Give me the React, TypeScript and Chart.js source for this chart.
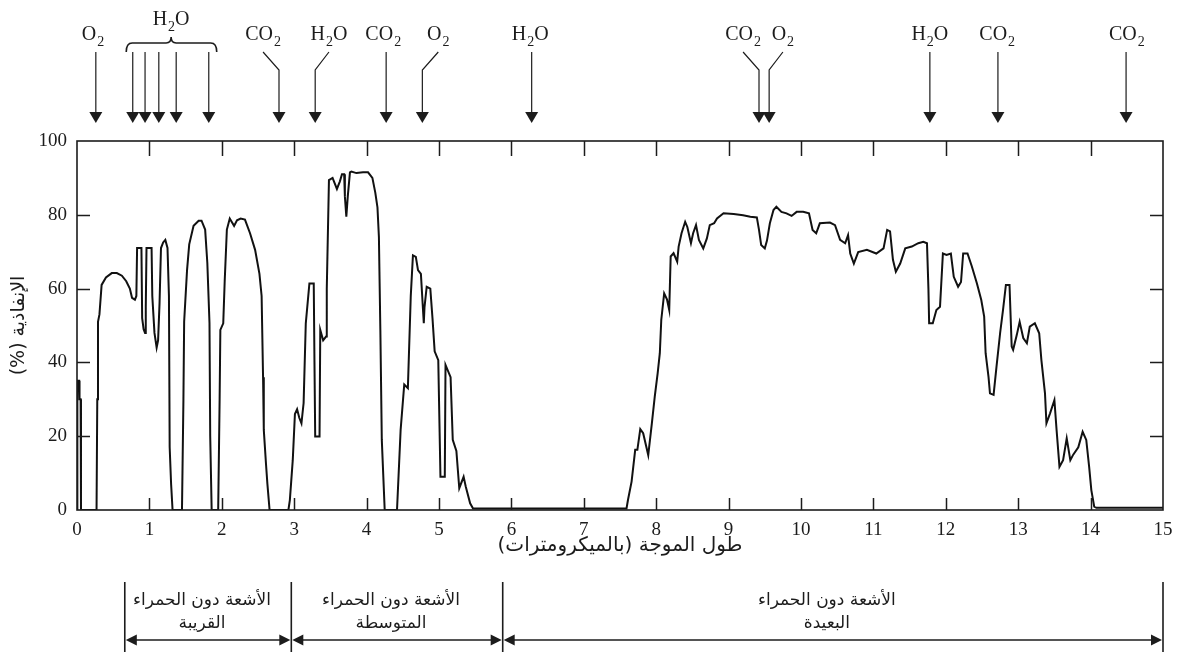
import React, { useEffect, useRef } from 'react';
import { Chart, registerables } from 'chart.js';

Chart.register(...registerables);

// ---- data: wavelength (µm), transmittance (%) ----
const nearIrBand: [number, number][] = [
  [0, 0], [0.005, 35], [0.03, 35], [0.035, 30], [0.05, 30], [0.055, 0], [0.27, 0], [0.28, 30], [0.29, 51],
  [0.31, 53], [0.34, 61], [0.4, 63], [0.48, 64.2], [0.55, 64.2], [0.62, 63.5], [0.68, 62], [0.73, 60],
  [0.76, 57.5], [0.8, 57], [0.82, 58], [0.83, 71], [0.89, 71], [0.9, 52], [0.92, 49], [0.94, 48], [0.95, 55],
  [0.96, 71], [1.03, 71], [1.04, 58], [1.07, 48], [1.1, 44], [1.12, 46], [1.14, 56], [1.16, 71], [1.19, 72.5],
  [1.22, 73.2], [1.25, 71], [1.27, 58], [1.28, 17], [1.3, 7], [1.32, 0], [1.45, 0], [1.47, 30], [1.48, 51],
  [1.52, 65], [1.55, 72], [1.61, 77], [1.68, 78.4], [1.72, 78.4], [1.77, 76], [1.8, 67], [1.83, 50.6],
  [1.84, 20], [1.86, 0], [1.95, 0], [1.97, 30], [1.98, 48.8], [2.02, 50.6], [2.04, 62], [2.07, 76], [2.11, 79],
  [2.14, 78], [2.17, 77], [2.21, 78.5], [2.26, 79], [2.32, 78.7], [2.39, 75], [2.46, 70.5], [2.52, 64],
  [2.55, 58], [2.57, 36], [2.58, 21.7], [2.61, 12.6], [2.63, 7], [2.66, 0], [2.92, 0],
];

const midIrBand: [number, number][] = [
  [2.94, 2.7], [2.98, 13.5], [3.01, 26], [3.04, 27.3], [3.07, 25], [3.1, 23.5], [3.13, 29], [3.16, 50.6],
  [3.21, 61.4], [3.27, 61.4], [3.28, 40], [3.29, 19.9], [3.35, 19.9], [3.36, 48.8], [3.4, 46], [3.44, 47],
  [3.45, 60], [3.48, 89.4], [3.53, 90], [3.59, 87], [3.63, 89], [3.66, 91], [3.69, 91], [3.7, 85], [3.72, 79.5],
  [3.74, 85], [3.77, 91.5], [3.79, 91.7], [3.86, 91.3], [3.95, 91.5], [4.02, 91.5], [4.08, 90], [4.12, 86],
  [4.15, 82], [4.17, 74], [4.19, 48.8], [4.21, 19], [4.25, 0], [4.42, 0], [4.47, 21.7], [4.52, 34], [4.57, 33],
  [4.61, 58], [4.64, 69], [4.68, 68.6], [4.71, 65], [4.75, 64], [4.79, 50.6], [4.8, 55], [4.83, 60.5],
  [4.88, 60], [4.91, 52], [4.94, 43], [4.99, 40.6], [5.02, 9], [5.08, 9], [5.09, 39.3], [5.16, 36], [5.19, 19],
  [5.24, 16], [5.28, 5.9], [5.34, 9], [5.37, 6.3], [5.43, 1.8], [5.47, 0.4], [5.9, 0.4],
];

const farIrBand: [number, number][] = [
  [7.59, 0.4], [7.61, 2.7], [7.66, 7.7], [7.71, 16.3], [7.74, 16.3], [7.78, 21.9], [7.82, 20.8], [7.89, 14.9],
  [7.94, 23.5], [7.98, 30.7], [8.02, 37], [8.05, 42.5], [8.07, 51.5], [8.11, 58.7], [8.15, 57], [8.18, 54.2],
  [8.2, 68.7], [8.24, 69.6], [8.29, 67.3], [8.31, 71.4], [8.35, 75], [8.4, 78.1], [8.43, 76.7], [8.48, 72.3],
  [8.51, 75], [8.55, 77.2], [8.59, 73.2], [8.65, 70.9], [8.7, 73.6], [8.74, 77.2], [8.8, 77.7], [8.84, 79],
  [8.93, 80.4], [9.07, 80.2], [9.2, 79.9], [9.3, 79.5], [9.39, 79.3], [9.42, 75.9], [9.45, 71.8], [9.5, 70.9],
  [9.53, 73], [9.57, 77.7], [9.62, 81.3], [9.66, 82.2], [9.73, 80.8], [9.8, 80.4], [9.87, 79.7], [9.94, 80.8],
  [10.03, 80.8], [10.11, 80.4], [10.16, 75.9], [10.21, 75], [10.26, 77.7], [10.4, 77.9], [10.47, 77.2],
  [10.54, 73.2], [10.61, 72.3], [10.65, 74.5], [10.68, 69.5], [10.73, 66.8], [10.79, 69.9], [10.91, 70.5],
  [11.04, 69.5], [11.14, 70.9], [11.19, 75.9], [11.23, 75.5], [11.27, 67.8], [11.31, 64.6], [11.37, 66.8],
  [11.44, 70.9], [11.53, 71.4], [11.62, 72.3], [11.69, 72.7], [11.74, 72.3], [11.76, 60], [11.77, 50.6],
  [11.82, 50.6], [11.87, 54.2], [11.92, 55.1], [11.96, 69.5], [12.01, 69.1], [12.07, 69.5], [12.11, 63.2],
  [12.17, 60.5], [12.21, 61.8], [12.24, 69.5], [12.3, 69.5], [12.36, 66], [12.43, 61.4], [12.49, 56.9],
  [12.53, 52.4], [12.55, 42.5], [12.59, 36.1], [12.61, 31.6], [12.66, 31.2], [12.7, 38.8], [12.75, 47.9],
  [12.79, 54.2], [12.83, 61], [12.88, 61], [12.91, 44.3], [12.93, 43.4], [12.98, 47.4], [13.02, 51],
  [13.07, 46.6], [13.12, 45.2], [13.16, 49.7], [13.23, 50.6], [13.29, 47.9], [13.32, 40.7], [13.37, 31.6],
  [13.39, 23.5], [13.44, 26.2], [13.5, 29.8], [13.53, 21.7], [13.57, 11.7], [13.62, 13.5], [13.67, 19.4],
  [13.72, 13.5], [13.76, 15], [13.83, 17], [13.89, 21.2], [13.94, 19], [13.98, 11.7], [14.01, 5.4],
  [14.05, 0.9], [14.08, 0.6], [15, 0.6],
];

// absorbing molecules above the plot (label position and arrow positions, in µm)
const absorberNames = ['O2', 'H2O', 'CO2', 'H2O', 'CO2', 'O2', 'H2O', 'CO2', 'O2', 'H2O', 'CO2', 'CO2'];
const absorberLabelAt = [0.22, 1.3, 2.57, 3.48, 4.23, 4.99, 6.26, 9.2, 9.75, 11.78, 12.71, 14.5];
const absorberArrowsAt = [
  [0.26], [0.77, 0.94, 1.13, 1.37, 1.82], [2.79], [3.29], [4.27], [4.77], [6.28], [9.42], [9.56], [11.78], [12.72], [14.49],
];
const bracedGroup = 1;
const braceSpan = [0.68, 1.93];

// infrared regions below the axis
const regionBounds = [0.66, 2.96, 5.88, 15];
const regionNames = [
  ['الأشعة دون الحمراء', 'القريبة'],
  ['الأشعة دون الحمراء', 'المتوسطة'],
  ['الأشعة دون الحمراء', 'البعيدة'],
];

const xTitle = 'طول الموجة (بالميكرومترات)';
const yTitle = 'الإنفاذية (%)';

const SERIF = '"Liberation Serif", "Times New Roman", serif';
const ARABIC = '"DejaVu Sans", sans-serif';
const INK = '#1c1c1c';

function drawFormula(ctx: CanvasRenderingContext2D, text: string, cx: number, baseline: number) {
  const parts = text.match(/[A-Z][a-z]?|\d+/g) || [];
  const mainFont = `20px ${SERIF}`;
  const subFont = `14px ${SERIF}`;
  const widths = parts.map((p) => {
    ctx.font = /\d/.test(p) ? subFont : mainFont;
    return ctx.measureText(p).width + (/\d/.test(p) ? 1 : 0);
  });
  const total = widths.reduce((s, w) => s + w, 0);
  let x = cx - total / 2;
  parts.forEach((p, i) => {
    const sub = /\d/.test(p);
    ctx.font = sub ? subFont : mainFont;
    ctx.fillText(p, sub ? x + 1 : x, sub ? baseline + 6 : baseline);
    x += widths[i];
  });
}

function arrowHead(ctx: CanvasRenderingContext2D, x: number, tipY: number) {
  ctx.beginPath();
  ctx.moveTo(x - 6.5, tipY - 11);
  ctx.lineTo(x + 6.5, tipY - 11);
  ctx.lineTo(x, tipY);
  ctx.closePath();
  ctx.fill();
}

const overlay = {
  id: 'overlay',
  afterDraw(chart: any) {
    const { ctx, chartArea: a, scales } = chart;
    const xs = scales.x;
    const ys = scales.y;
    const X = (v: number) => xs.getPixelForValue(v);
    ctx.save();
    ctx.strokeStyle = INK;
    ctx.fillStyle = INK;
    ctx.lineWidth = 1.6;
    ctx.strokeRect(a.left, a.top, a.right - a.left, a.bottom - a.top);

    // inward tick marks
    ctx.lineWidth = 1.5;
    ctx.beginPath();
    xs.ticks.forEach((t: any) => {
      if (t.value <= xs.min || t.value >= xs.max) return;
      const p = Math.round(X(t.value)) + 0.5;
      ctx.moveTo(p, a.top);
      ctx.lineTo(p, a.top + 15);
      ctx.moveTo(p, a.bottom);
      ctx.lineTo(p, a.bottom - 12);
    });
    ys.ticks.forEach((t: any) => {
      if (t.value <= ys.min || t.value >= ys.max) return;
      const p = Math.round(ys.getPixelForValue(t.value)) + 0.5;
      ctx.moveTo(a.left, p);
      ctx.lineTo(a.left + 13, p);
      ctx.moveTo(a.right, p);
      ctx.lineTo(a.right - 13, p);
    });
    ctx.stroke();

    // absorbers above the plot
    const labelBase = a.top - 101;
    const lineTop = a.top - 89;
    const knee = a.top - 71;
    const tip = a.top - 18;
    ctx.direction = 'ltr';
    ctx.textAlign = 'left';
    ctx.textBaseline = 'alphabetic';
    ctx.lineWidth = 1.2;
    absorberNames.forEach((name, i) => {
      const lx = X(absorberLabelAt[i]);
      if (i === bracedGroup) {
        drawFormula(ctx, name, lx, labelBase - 15);
        const b0 = X(braceSpan[0]);
        const b1 = X(braceSpan[1]);
        const by = lineTop - 9;
        ctx.beginPath();
        ctx.moveTo(b0, lineTop);
        ctx.quadraticCurveTo(b0, by, b0 + 6, by);
        ctx.lineTo(lx - 5, by);
        ctx.quadraticCurveTo(lx, by, lx, by - 6);
        ctx.quadraticCurveTo(lx, by, lx + 5, by);
        ctx.lineTo(b1 - 6, by);
        ctx.quadraticCurveTo(b1, by, b1, lineTop);
        ctx.lineWidth = 1.6;
        ctx.stroke();
        ctx.lineWidth = 1.2;
        absorberArrowsAt[i].forEach((w) => {
          const ax = X(w);
          ctx.beginPath();
          ctx.moveTo(ax, lineTop);
          ctx.lineTo(ax, tip - 10);
          ctx.stroke();
          arrowHead(ctx, ax, tip);
        });
        return;
      }
      drawFormula(ctx, name, lx, labelBase);
      const ax = X(absorberArrowsAt[i][0]);
      ctx.beginPath();
      if (Math.abs(ax - lx) > 3) {
        ctx.moveTo(lx, lineTop);
        ctx.lineTo(ax, knee);
      } else {
        ctx.moveTo(ax, lineTop);
      }
      ctx.lineTo(ax, tip - 10);
      ctx.stroke();
      arrowHead(ctx, ax, tip);
    });

    // infrared regions below the axis
    const vTop = a.bottom + 72;
    const vBot = a.bottom + 142;
    const arrowY = a.bottom + 130;
    ctx.lineWidth = 1.6;
    ctx.beginPath();
    regionBounds.forEach((b) => {
      const p = X(b);
      ctx.moveTo(p, vTop);
      ctx.lineTo(p, vBot);
    });
    ctx.stroke();
    ctx.lineWidth = 1.3;
    for (let i = 0; i < regionBounds.length - 1; i++) {
      const p0 = X(regionBounds[i]) + 1;
      const p1 = X(regionBounds[i + 1]) - 1;
      ctx.beginPath();
      ctx.moveTo(p0 + 8, arrowY);
      ctx.lineTo(p1 - 8, arrowY);
      ctx.stroke();
      ctx.beginPath();
      ctx.moveTo(p0, arrowY);
      ctx.lineTo(p0 + 11, arrowY - 5.5);
      ctx.lineTo(p0 + 11, arrowY + 5.5);
      ctx.closePath();
      ctx.fill();
      ctx.beginPath();
      ctx.moveTo(p1, arrowY);
      ctx.lineTo(p1 - 11, arrowY - 5.5);
      ctx.lineTo(p1 - 11, arrowY + 5.5);
      ctx.closePath();
      ctx.fill();
      const cx = (p0 + p1) / 2 - 6;
      ctx.direction = 'rtl';
      ctx.textAlign = 'center';
      ctx.textBaseline = 'middle';
      ctx.font = `17px ${ARABIC}`;
      ctx.fillText(regionNames[i][0], cx, a.bottom + 91);
      ctx.fillText(regionNames[i][1], cx, a.bottom + 114);
    }
    ctx.restore();
  },
};

export default function App() {
  const ref = useRef<HTMLCanvasElement>(null);
  useEffect(() => {
    const points = [...nearIrBand, ...midIrBand, ...farIrBand].map(([x, y]) => ({ x, y }));
    const chart = new Chart(ref.current as HTMLCanvasElement, {
      type: 'line',
      data: {
        datasets: [
          {
            data: points,
            borderColor: '#111',
            borderWidth: 2,
            pointRadius: 0,
            tension: 0,
            fill: false,
          },
        ],
      },
      options: {
        animation: false,
        responsive: false,
        devicePixelRatio: 1,
        layout: { padding: { top: 141, right: 20, bottom: 96, left: 0 } },
        plugins: { legend: { display: false }, tooltip: { enabled: false } },
        scales: {
          x: {
            type: 'linear',
            min: 0,
            max: 15,
            grid: { display: false, drawTicks: false },
            border: { display: false },
            ticks: {
              stepSize: 1,
              autoSkip: false,
              maxRotation: 0,
              padding: 9,
              color: INK,
              font: { family: SERIF, size: 19 },
            },
            title: {
              display: true,
              text: xTitle,
              color: INK,
              font: { family: ARABIC, size: 20 },
              padding: { top: 0, bottom: 0 },
            },
            afterFit: (s: any) => {
              s.height = 48;
            },
          },
          y: {
            min: 0,
            max: 100,
            grid: { display: false, drawTicks: false },
            border: { display: false },
            ticks: {
              stepSize: 20,
              padding: 10,
              color: INK,
              font: { family: SERIF, size: 19 },
            },
            title: {
              display: true,
              text: yTitle,
              color: INK,
              font: { family: ARABIC, size: 19 },
              padding: { top: 8, bottom: 0 },
            },
            afterFit: (s: any) => {
              s.width = 77;
            },
          },
        },
      },
      plugins: [overlay],
    } as any);
    return () => chart.destroy();
  }, []);
  return (
    <div style={{ position: 'absolute', left: 0, top: 0, width: 1183, height: 654, background: '#fff' }}>
      <canvas ref={ref} width={1183} height={654} dir="rtl" style={{ display: 'block' }} />
    </div>
  );
}
